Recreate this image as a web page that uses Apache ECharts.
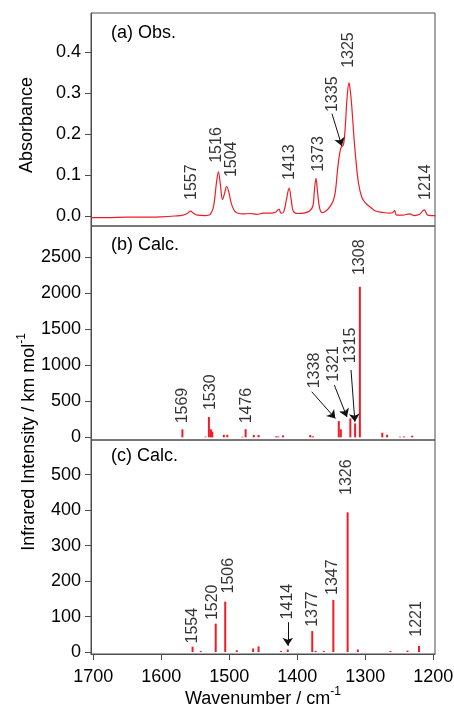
<!DOCTYPE html>
<html>
<head>
<meta charset="utf-8">
<script src="https://cdn.jsdelivr.net/npm/echarts@6/dist/echarts.min.js"></script>
<style>
  html, body { margin: 0; padding: 0; background: #fff; }
  #chart { width: 454px; height: 709px; }
</style>
</head>
<body>
<div id="chart"></div>
<script>
// (a) observed spectrum, [wavenumber, absorbance]
const obsSpectrum = [
  [1703, -0.004], [1680, -0.004], [1650, -0.003], [1620, -0.003], [1600, -0.002],
  [1580, 0.000], [1568, 0.002], [1562, 0.006], [1557, 0.012], [1553, 0.007],
  [1547, 0.002], [1535, 0.001], [1528, 0.004], [1523, 0.025], [1519, 0.080],
  [1516, 0.108], [1513, 0.075], [1510, 0.040], [1507, 0.055], [1504, 0.072],
  [1501, 0.060], [1497, 0.030], [1493, 0.014], [1489, 0.008], [1480, 0.005],
  [1470, 0.006], [1460, 0.004], [1450, 0.007], [1440, 0.007], [1432, 0.009],
  [1427, 0.017], [1424, 0.007], [1420, 0.010], [1416, 0.040], [1412, 0.068],
  [1409, 0.040], [1406, 0.012], [1400, 0.006], [1390, 0.007], [1382, 0.012],
  [1377, 0.025], [1375, 0.060], [1372.5, 0.092], [1370, 0.055], [1367, 0.018],
  [1363, 0.008], [1358, 0.012], [1352, 0.023], [1347, 0.038], [1344, 0.060],
  [1340, 0.125], [1336, 0.166], [1332, 0.175], [1329, 0.230], [1327, 0.285],
  [1324, 0.326], [1322, 0.305], [1320, 0.270], [1317, 0.200], [1314, 0.140],
  [1310, 0.080], [1305, 0.045], [1300, 0.032], [1293, 0.022], [1285, 0.012],
  [1275, 0.009], [1264, 0.007], [1260, 0.008], [1257, 0.013], [1254, 0.002],
  [1245, 0.002], [1235, 0.005], [1228, 0.001], [1220, 0.004], [1216, 0.012],
  [1213, 0.015], [1209, 0.003], [1203, 0.001], [1197, 0.001]
];
// label anchor [wavenumber, value, text]
const obsLabels = [
  [1556, 0.039, '1557'], [1518.5, 0.130, '1516'], [1496, 0.095, '1504'],
  [1411, 0.088, '1413'], [1369, 0.108, '1373'], [1347.5, 0.254, '1335'],
  [1325, 0.362, '1325'], [1212, 0.039, '1214']
];
// arrow [x1, y1, x2, y2]
const obsArrows = [[1349, 0.250, 1334.5, 0.171]];

// (b) calculated sticks, [wavenumber, intensity]
const calcB = [
  [1569, 111], [1535, 10], [1530, 283], [1527, 111], [1525, 80], [1508, 35],
  [1503, 35], [1481, 8], [1476, 113], [1464, 33], [1457, 33], [1431, 15],
  [1428, 12], [1421, 27], [1381, 33], [1377, 14], [1339, 226], [1336, 112],
  [1322, 263], [1315, 194], [1308, 2090], [1275, 64], [1268, 36], [1249, 9],
  [1243, 12], [1231, 23]
];
const calcBLabels = [
  [1569, 194, '1569'], [1527, 379, '1530'], [1474.5, 194, '1476'],
  [1374, 681, '1338'], [1347, 772, '1321'], [1321, 1028, '1315'],
  [1308, 2254, '1308']
];
const calcBArrows = [
  [1378.8, 633, 1344, 262], [1345.6, 726, 1327, 284], [1321, 935, 1315.3, 215]
];

// (c) calculated sticks
const calcC = [
  [1554, 15], [1542, 3], [1520, 80], [1506, 142], [1489, 5], [1465, 10],
  [1457, 16], [1424, 3], [1414, 7], [1378, 59], [1373, 3], [1361, 3],
  [1347, 147], [1326, 394], [1311, 7], [1263, 3], [1238, 4], [1221, 17]
];
const calcCLabels = [
  [1554.4, 24, '1554'], [1525, 90, '1520'], [1500.4, 165, '1506'],
  [1414, 92, '1414'], [1378, 71, '1377'], [1348.5, 161, '1347'],
  [1327.4, 443, '1326'], [1224.4, 43, '1221']
];
const calcCArrows = [[1414, 84, 1414, 18]];

const xTicks = [1200, 1300, 1400, 1500, 1600, 1700];
const yTicksA = [0, 0.1, 0.2, 0.3, 0.4];
const yTicksB = [0, 500, 1000, 1500, 2000, 2500];
const yTicksC = [0, 100, 200, 300, 400, 500];

const RED = '#ee1c25';
const FRAME = '#4d4d4d';
const FONT = 'Liberation Sans';

const chart = echarts.init(document.getElementById('chart'));

const grids = [
  { left: 91, top: 13, width: 344, height: 213 },
  { left: 91, top: 226, width: 344, height: 214 },
  { left: 91, top: 440, width: 344, height: 214 }
].map(g => Object.assign(g, {
  show: true, borderColor: FRAME, borderWidth: 1,
  containLabel: false, outerBoundsMode: 'none'
}));

function xAxisCfg(i) {
  const last = i === 2;
  return {
    type: 'value', gridIndex: i, min: 1197.5, max: 1703.4, inverse: true,
    splitLine: { show: false },
    axisLine: { show: last, onZero: false, lineStyle: { color: FRAME } },
    axisTick: { show: last, length: 6, customValues: xTicks, lineStyle: { color: FRAME } },
    axisLabel: {
      show: last, customValues: xTicks, fontSize: 18, fontFamily: FONT, color: '#000', margin: 14,
      formatter: v => String(v)
    }
  };
}

function yAxisCfg(i, min, max, ticks, digits) {
  return {
    type: 'value', gridIndex: i, min: min, max: max,
    splitLine: { show: false },
    axisLine: { show: true, onZero: false, lineStyle: { color: FRAME } },
    axisTick: { show: true, length: 6, customValues: ticks, lineStyle: { color: FRAME } },
    axisLabel: {
      customValues: ticks, fontSize: 18, fontFamily: FONT, color: '#000', margin: 10,
      formatter: v => Number(v).toFixed(digits)
    }
  };
}

function stickSeries(i, data, width) {
  return {
    type: 'custom', xAxisIndex: i, yAxisIndex: i, data: data,
    encode: { x: 0, y: 1 },
    renderItem: function (params, api) {
      const top = api.coord([api.value(0), api.value(1)]);
      const base = api.coord([api.value(0), 0]);
      return {
        type: 'rect',
        shape: { x: top[0] - width / 2, y: top[1], width: width, height: base[1] - top[1] },
        style: { fill: RED }
      };
    }
  };
}

function labelSeries(i, labels, arrows) {
  return {
    type: 'scatter', xAxisIndex: i, yAxisIndex: i, symbolSize: 0, silent: true,
    data: labels.map(l => ({ value: [l[0], l[1]], name: l[2] })),
    label: {
      show: true, formatter: '{b}', position: 'top', distance: 0, rotate: 90,
      align: 'left', verticalAlign: 'middle',
      fontSize: 16, fontFamily: FONT, color: '#000'
    },
    markLine: {
      silent: true, symbol: ['none', 'arrow'], symbolSize: 8, animation: false,
      label: { show: false },
      lineStyle: { color: '#111', width: 1, type: 'solid' },
      data: arrows.map(a => [{ coord: [a[0], a[1]] }, { coord: [a[2], a[3]] }])
    }
  };
}

function titleText(text, x, y, rot, align) {
  return {
    type: 'text', x: x, y: y, rotation: rot || 0,
    style: {
      text: text, fill: '#000', font: '18px "' + FONT + '"',
      textAlign: align || 'center', textVerticalAlign: 'middle',
      rich: {
        n: { fontSize: 18, fontFamily: FONT, lineHeight: 22, verticalAlign: 'bottom' },
        s: { fontSize: 12, fontFamily: FONT, lineHeight: 22, verticalAlign: 'top', padding: [0, 0, 8, 0] }
      }
    }
  };
}

chart.setOption({
  animation: false,
  backgroundColor: '#fff',
  grid: grids,
  xAxis: [xAxisCfg(0), xAxisCfg(1), xAxisCfg(2)],
  yAxis: [
    yAxisCfg(0, -0.0245, 0.496, yTicksA, 1),
    yAxisCfg(1, -37, 2935, yTicksB, 0),
    yAxisCfg(2, -5.6, 598, yTicksC, 0)
  ],
  series: [
    {
      type: 'line', xAxisIndex: 0, yAxisIndex: 0, data: obsSpectrum,
      showSymbol: false, smooth: 0.35, lineStyle: { color: RED, width: 1.2 }
    },
    labelSeries(0, obsLabels, obsArrows),
    stickSeries(1, calcB, 2),
    labelSeries(1, calcBLabels, calcBArrows),
    stickSeries(2, calcC, 2),
    labelSeries(2, calcCLabels, calcCArrows)
  ],
  graphic: [
    titleText('(a) Obs.', 111, 33, 0, 'left'),
    titleText('(b) Calc.', 111, 245, 0, 'left'),
    titleText('(c) Calc.', 111, 456, 0, 'left'),
    titleText('Absorbance', 27, 125, Math.PI / 2),
    titleText('{n|Infrared Intensity / km mol}{s|-1}', 27, 442, Math.PI / 2),
    titleText('{n|Wavenumber / cm}{s|-1}', 263, 697, 0)
  ]
});
</script>
</body>
</html>
